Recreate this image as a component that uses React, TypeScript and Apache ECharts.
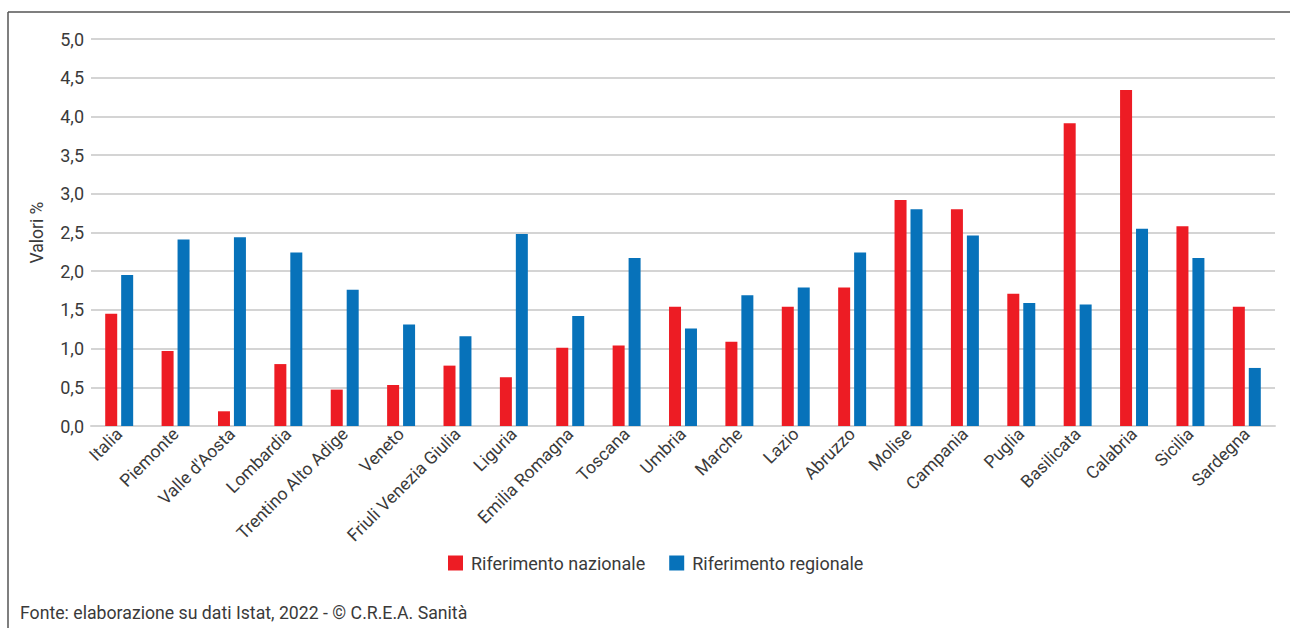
import React, { useEffect, useRef } from "react";
import * as echarts from "echarts";

const categories = [
  "Italia", "Piemonte", "Valle d'Aosta", "Lombardia", "Trentino Alto Adige", "Veneto",
  "Friuli Venezia Giulia", "Liguria", "Emilia Romagna", "Toscana", "Umbria", "Marche",
  "Lazio", "Abruzzo", "Molise", "Campania", "Puglia", "Basilicata", "Calabria", "Sicilia", "Sardegna",
];
const nazionale = [1.45, 0.97, 0.19, 0.8, 0.47, 0.53, 0.78, 0.63, 1.01, 1.04, 1.54, 1.09, 1.54, 1.79, 2.92, 2.8, 1.71, 3.91, 4.34, 2.58, 1.54];
const regionale = [1.95, 2.41, 2.44, 2.24, 1.76, 1.31, 1.16, 2.48, 1.42, 2.17, 1.26, 1.69, 1.79, 2.24, 2.8, 2.46, 1.59, 1.57, 2.55, 2.17, 0.75];
const seriesNames = ["Riferimento nazionale", "Riferimento regionale"];
const footer = "Fonte: elaborazione su dati Istat, 2022 - © C.R.E.A. Sanità";

const FONT = "Roboto, 'Liberation Sans', Arial, sans-serif";
const TXT = "#3a3a3a";

export default function App() {
  const ref = useRef<HTMLDivElement>(null);
  useEffect(() => {
    if (!ref.current) return;
    const chart = echarts.init(ref.current, undefined, { renderer: "svg" });
    chart.setOption({
      animation: false,
      textStyle: { fontFamily: FONT },
      grid: { left: 91, right: 15, top: 39, bottom: 202 },
      legend: {
        left: 448,
        top: 554,
        padding: 0,
        itemWidth: 15,
        itemHeight: 15,
        itemGap: 24,
        icon: "rect",
        textStyle: { fontFamily: FONT, fontSize: 18, color: TXT, padding: [0, 0, 0, 3] },
        data: seriesNames,
      },
      xAxis: {
        type: "category",
        data: categories,
        axisLine: { show: true, lineStyle: { color: "#d4d4d4", width: 2 } },
        axisTick: { show: false },
        axisLabel: { interval: 0, rotate: 45, fontSize: 17.5, color: TXT, fontFamily: FONT, margin: 5 },
      },
      yAxis: {
        type: "value",
        min: 0,
        max: 5,
        interval: 0.5,
        name: "Valori %",
        nameLocation: "middle",
        nameRotate: 90,
        nameGap: 45,
        nameTextStyle: { fontSize: 17.5, color: TXT, fontFamily: FONT },
        axisLine: { show: false },
        axisTick: { show: false },
        axisLabel: {
          fontSize: 18,
          color: TXT,
          fontFamily: FONT,
          margin: 7,
          formatter: (v: number) => v.toFixed(1).replace(".", ","),
        },
        splitLine: { lineStyle: { color: "#d4d4d4", width: 2 } },
      },
      series: [
        {
          name: seriesNames[0],
          type: "bar",
          data: nazionale,
          barWidth: 12,
          barGap: "33%",
          itemStyle: { color: "#ED1C24" },
        },
        {
          name: seriesNames[1],
          type: "bar",
          data: regionale,
          barWidth: 12,
          barGap: "33%",
          itemStyle: { color: "#0772BA" },
        },
      ],
      graphic: [
        { type: "line", shape: { x1: 8, y1: 12, x2: 1290, y2: 12 }, style: { stroke: "#555", lineWidth: 1.5 } },
        { type: "line", shape: { x1: 8, y1: 12, x2: 8, y2: 628 }, style: { stroke: "#555", lineWidth: 1.5 } },
        {
          type: "text",
          left: 20,
          top: 604,
          style: { text: footer, fontSize: 17.7, fill: TXT, fontFamily: FONT },
        },
      ],
    });
    return () => chart.dispose();
  }, []);
  return (
    <div
      ref={ref}
      style={{ position: "fixed", left: 0, top: 0, width: 1290, height: 628, background: "#fff" }}
    />
  );
}
